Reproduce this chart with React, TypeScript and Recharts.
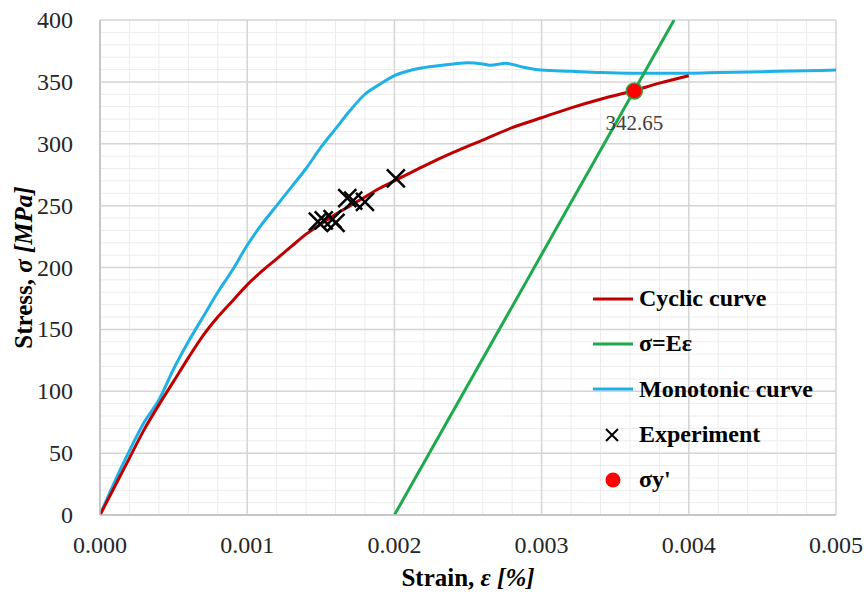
import React from 'react';
import {
  ComposedChart,
  Line,
  Scatter,
  XAxis,
  YAxis,
  CartesianGrid,
  LabelList,
} from 'recharts';

// strain [-] vs stress [MPa]
const cyclicStrain = [0, 0.0001, 0.0002, 0.0003, 0.0004, 0.0005, 0.0006, 0.0007, 0.0008, 0.0009, 0.001, 0.0011, 0.0012, 0.0013, 0.0014, 0.0015, 0.0016, 0.0017, 0.0018, 0.0019, 0.002, 0.0022, 0.0024, 0.0026, 0.0028, 0.003, 0.0032, 0.0034, 0.0036, 0.0038, 0.004];
const cyclicStress = [0, 23, 46, 69, 89, 108, 127, 145, 160, 173, 186, 197, 207, 217, 227, 235, 243, 250, 257, 264, 270, 282, 293, 303, 313, 321, 329, 336, 342, 349, 355];

const monoStrain = [0, 0.0001, 0.0002, 0.0003, 0.0004, 0.0005, 0.0006, 0.0007, 0.0008, 0.0009, 0.001, 0.0011, 0.0012, 0.0013, 0.0014, 0.0015, 0.0016, 0.0017, 0.0018, 0.0019, 0.002, 0.0021, 0.0022, 0.0024, 0.0025, 0.0026, 0.00265, 0.00276, 0.00287, 0.003, 0.0032, 0.0034, 0.0036, 0.0038, 0.004, 0.0042, 0.0044, 0.0046, 0.0048, 0.005];
const monoStress = [0, 27, 52, 75, 93, 118, 140, 160, 180, 198, 218, 235, 250, 265, 280, 297, 312, 327, 340, 348, 355, 359, 361.5, 364.5, 365.5, 364.5, 363.5, 365, 362, 359.5, 358.5, 357.5, 357, 357, 357, 357.5, 358, 358.5, 359, 359.5];

const elasticStrain = [0.002, 0.0039];
const elasticStress = [0, 400];

const expStrain = [0.00148, 0.00152, 0.00158, 0.0016, 0.00168, 0.00172, 0.0018, 0.00201];
const expStress = [237, 238, 239, 236, 256, 254, 253, 272];

const yieldStrain = [0.00363];
const yieldStress = [342.65];

const xTicks = [0, 0.001, 0.002, 0.003, 0.004, 0.005];
const yTicks = [0, 50, 100, 150, 200, 250, 300, 350, 400];
const xMinor = [0.0002, 0.0004, 0.0006, 0.0008, 0.0012, 0.0014, 0.0016, 0.0018, 0.0022, 0.0024, 0.0026, 0.0028, 0.0032, 0.0034, 0.0036, 0.0038, 0.0042, 0.0044, 0.0046, 0.0048];
const yMinor = [10, 20, 30, 40, 60, 70, 80, 90, 110, 120, 130, 140, 160, 170, 180, 190, 210, 220, 230, 240, 260, 270, 280, 290, 310, 320, 330, 340, 360, 370, 380, 390];

const zip = (xs: number[], ys: number[]) => xs.map((x, i) => ({ x, y: ys[i] }));

const cyclic = zip(cyclicStrain, cyclicStress);
const mono = zip(monoStrain, monoStress);
const elastic = zip(elasticStrain, elasticStress);
const experiment = zip(expStrain, expStress);
const yieldPt = zip(yieldStrain, yieldStress);

const RED = '#c00000';
const GREEN = '#1fa94f';
const BLUE = '#1fb1e6';
const FONT = 'Liberation Serif';

const Cross = (props: any) => {
  const { cx, cy } = props;
  const s = 9;
  return (
    <path
      d={`M${cx - s},${cy - s}L${cx + s},${cy + s}M${cx - s},${cy + s}L${cx + s},${cy - s}`}
      stroke="#000"
      strokeWidth={2.5}
      fill="none"
    />
  );
};

const Dot = (props: any) => {
  const { cx, cy } = props;
  return <circle cx={cx} cy={cy} r={8} fill="#ff0000" stroke="#3c9a4a" strokeWidth={1.5} />;
};

const XTick = (props: any) => {
  const { x, y, payload } = props;
  return (
    <text x={x} y={y + 22} textAnchor="middle" dominantBaseline="central" style={{ fontFamily: FONT, fontSize: 24 }} fill="#262626">
      {Number(payload.value).toFixed(3)}
    </text>
  );
};

const YTick = (props: any) => {
  const { x, y, payload } = props;
  return (
    <text x={x - 1} y={y} textAnchor="end" dominantBaseline="central" style={{ fontFamily: FONT, fontSize: 24 }} fill="#262626">
      {payload.value}
    </text>
  );
};

const YLabel = (props: any) => {
  const { viewBox } = props;
  const cy = viewBox.y + viewBox.height / 2;
  const x = 23;
  return (
    <text
      x={x}
      y={cy}
      transform={`rotate(-90, ${x}, ${cy})`}
      textAnchor="middle"
      dominantBaseline="central"
      style={{ fontFamily: FONT, fontSize: 25, fontWeight: 'bold' }}
      fill="#000"
    >
      Stress, <tspan fontStyle="italic">σ [MPa]</tspan>
    </text>
  );
};

const XLabel = (props: any) => {
  const { viewBox } = props;
  const cx = viewBox.x + viewBox.width / 2;
  return (
    <text
      x={cx}
      y={577}
      textAnchor="middle"
      dominantBaseline="central"
      style={{ fontFamily: FONT, fontSize: 25, fontWeight: 'bold' }}
      fill="#000"
    >
      Strain, <tspan fontStyle="italic">ε [%]</tspan>
    </text>
  );
};

// minor grid positions, from the axis scale when available
const hMinor = ({ yAxis, offset }: any) =>
  yMinor.map((v) =>
    yAxis && typeof yAxis.scale === 'function'
      ? yAxis.scale(v)
      : offset.top + offset.height * (1 - v / 400)
  );
const vMinor = ({ xAxis, offset }: any) =>
  xMinor.map((v) =>
    xAxis && typeof xAxis.scale === 'function'
      ? xAxis.scale(v)
      : offset.left + offset.width * (v / 0.005)
  );

const legendItems = [
  { name: 'Cyclic curve', kind: 'line', color: RED },
  { name: 'σ=Eε', kind: 'line', color: GREEN },
  { name: 'Monotonic curve', kind: 'line', color: BLUE },
  { name: 'Experiment', kind: 'cross', color: '#000' },
  { name: "σy'", kind: 'dot', color: '#ff0000' },
];

const Legend = () => (
  <div style={{ position: 'absolute', left: 592, top: 276, fontFamily: FONT }}>
    {legendItems.map((it) => (
      <div key={it.name} style={{ display: 'flex', alignItems: 'center', height: 45.3 }}>
        <svg width={42} height={20} style={{ marginRight: 5 }}>
          {it.kind === 'line' && <line x1={1} y1={10} x2={41} y2={10} stroke={it.color} strokeWidth={3} />}
          {it.kind === 'cross' && (
            <path d="M14,4L26,16M14,16L26,4" stroke="#000" strokeWidth={2} fill="none" />
          )}
          {it.kind === 'dot' && <circle cx={21} cy={10} r={7.5} fill={it.color} />}
        </svg>
        <span style={{ fontSize: 24, fontWeight: 'bold', color: '#000' }}>{it.name}</span>
      </div>
    ))}
  </div>
);

export default function App() {
  return (
    <div style={{ position: 'absolute', left: 0, top: 0, width: 864, height: 594, background: '#fff', fontFamily: FONT }}>
      <ComposedChart
        width={864}
        height={594}
        margin={{ top: 20, right: 28, bottom: 49, left: 40 }}
        style={{ fontFamily: FONT }}
      >
        <CartesianGrid
          stroke="#ececec"
          strokeWidth={1}
          horizontalCoordinatesGenerator={hMinor}
          verticalCoordinatesGenerator={vMinor}
        />
        <CartesianGrid stroke="#d4d4d4" strokeWidth={1.5} />
        <XAxis
          type="number"
          dataKey="x"
          domain={[0, 0.005]}
          ticks={xTicks}
          tickLine={false}
          axisLine={{ stroke: '#bfbfbf', strokeWidth: 1.5 }}
          tick={<XTick />}
          height={30}
          allowDataOverflow
          label={<XLabel />}
        />
        <YAxis
          type="number"
          dataKey="y"
          domain={[0, 400]}
          ticks={yTicks}
          tickLine={false}
          axisLine={{ stroke: '#bfbfbf', strokeWidth: 1.5 }}
          tick={<YTick />}
          tickMargin={20}
          width={60}
          allowDataOverflow
          label={<YLabel />}
        />
        <Line data={mono} dataKey="y" type="monotone" stroke={BLUE} strokeWidth={3} dot={false} isAnimationActive={false} />
        <Line data={cyclic} dataKey="y" type="monotone" stroke={RED} strokeWidth={3} dot={false} isAnimationActive={false} />
        <Line data={elastic} dataKey="y" type="linear" stroke={GREEN} strokeWidth={3} dot={false} isAnimationActive={false} />
        <Scatter data={experiment} dataKey="y" shape={<Cross />} isAnimationActive={false} />
        <Scatter data={yieldPt} dataKey="y" shape={<Dot />} isAnimationActive={false}>
          <LabelList
            dataKey="y"
            position="bottom"
            offset={20}
            formatter={(v: number) => v.toFixed(2)}
            style={{ fontFamily: FONT, fontSize: 21, fill: '#404040' }}
          />
        </Scatter>
      </ComposedChart>
      <Legend />
    </div>
  );
}
